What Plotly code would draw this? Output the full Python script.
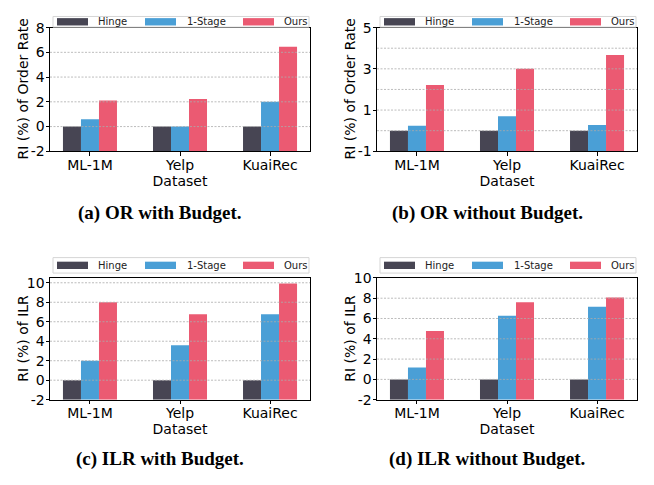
import plotly.graph_objects as go

# ---------------- data ----------------
datasets = ["ML-1M", "Yelp", "KuaiRec"]
methods = ["Hinge", "1-Stage", "Ours"]

or_budget_hinge = [0.0, 0.0, 0.0]
or_budget_1stage = [0.6, 0.0, 2.0]
or_budget_ours = [2.1, 2.23, 6.45]

or_nobudget_hinge = [0.0, 0.0, 0.0]
or_nobudget_1stage = [0.24, 0.7, 0.28]
or_nobudget_ours = [2.21, 3.0, 3.67]

ilr_budget_hinge = [0.0, 0.0, 0.0]
ilr_budget_1stage = [2.0, 3.6, 6.78]
ilr_budget_ours = [8.0, 6.78, 9.93]

ilr_nobudget_hinge = [0.0, 0.0, 0.0]
ilr_nobudget_1stage = [1.17, 6.28, 7.17]
ilr_nobudget_ours = [4.77, 7.61, 8.08]

ytick_a = [-2, 0, 2, 4, 6, 8]
ytick_b = [-1, 1, 3, 5]
ytick_c = [-2, 0, 2, 4, 6, 8, 10]
ytick_d = [-2, 0, 2, 4, 6, 8, 10]

y_titles = ["RI (%) of Order Rate", "RI (%) of Order Rate", "RI (%) of ILR", "RI (%) of ILR"]
captions = ["(a) OR with Budget.", "(b) OR without Budget.",
            "(c) ILR with Budget.", "(d) ILR without Budget."]

# ---------------- style / layout ----------------
OFF = 8                      # page body margin of the html page
W, H = 654 - OFF, 485 - OFF  # figure size so that it fits the window
colors = ["#474553", "#4a9fd6", "#eb5a72"]
FONT = "DejaVu Sans"


def px(x):
    return (x - OFF) / W


def py(y):
    return 1 - (y - OFF) / H


panels = [
    dict(series=[or_budget_hinge, or_budget_1stage, or_budget_ours], yr=[-2, 8], ticks=ytick_a,
         grid=[0, 2, 4, 6], box=(50, 310, 20, 148), leg=(8.5, 19.5)),
    dict(series=[or_nobudget_hinge, or_nobudget_1stage, or_nobudget_ours], yr=[-1, 5], ticks=ytick_b,
         grid=[0, 1, 2, 3, 4], box=(377, 637, 20, 148), leg=(8.5, 19.5)),
    dict(series=[ilr_budget_hinge, ilr_budget_1stage, ilr_budget_ours], yr=[-2, 10.5], ticks=ytick_c,
         grid=[0, 2, 4, 6, 8, 10], box=(50, 310, 279, 405), leg=(258, 274)),
    dict(series=[ilr_nobudget_hinge, ilr_nobudget_1stage, ilr_nobudget_ours], yr=[-2, 10], ticks=ytick_d,
         grid=[0, 2, 4, 6, 8], box=(377, 637, 279, 405), leg=(258, 274)),
]

fig = go.Figure()
shapes = []
annotations = []
layout_axes = {}

for i, p in enumerate(panels):
    n = "" if i == 0 else str(i + 1)
    xa, ya = "x" + n, "y" + n
    x0, x1, y0, y1 = p["box"]
    base = p["yr"][0]
    for m, vals, c in zip(methods, p["series"], colors):
        fig.add_trace(go.Bar(
            x=datasets, y=[v - base for v in vals], base=base, name=m,
            marker=dict(color=c, line=dict(width=0)), xaxis=xa, yaxis=ya,
            showlegend=False, offsetgroup=m,
        ))
    layout_axes["xaxis" + n] = dict(
        domain=[px(x0), px(x1)], anchor=ya, range=[-0.444, 2.444],
        showline=True, mirror=True, linecolor="black", linewidth=1,
        ticks="outside", ticklen=3.5, tickcolor="black", showgrid=False,
        ticklabelstandoff=-3,
        tickfont=dict(family=FONT, size=14, color="black"),
        title=dict(text="Dataset", font=dict(family=FONT, size=14, color="black"), standoff=0),
        fixedrange=True,
    )
    layout_axes["yaxis" + n] = dict(
        domain=[py(y1), py(y0)], anchor=xa, range=p["yr"],
        tickvals=p["ticks"], ticktext=[str(t) for t in p["ticks"]],
        showline=True, mirror=True, linecolor="black", linewidth=1,
        ticks="outside", ticklen=3.5, tickcolor="black", showgrid=False, zeroline=False,
        ticklabelstandoff=-2,
        tickfont=dict(family=FONT, size=14, color="black"),
        fixedrange=True,
    )
    # y-axis title
    annotations.append(dict(text=y_titles[i], xref="paper", yref="paper",
                            x=px(x0 - 27), y=py((y0 + y1) / 2), xanchor="center", yanchor="middle",
                            textangle=-90, showarrow=False,
                            font=dict(family=FONT, size=14, color="black")))
    # gridlines drawn above bars (as in reference)
    for g in p["grid"]:
        shapes.append(dict(type="line", xref=xa + " domain", yref=ya, x0=0, x1=1, y0=g, y1=g,
                           line=dict(color="#ababab", width=0.8, dash="2px,1.5px"), layer="above"))
    # legend box
    ly0, ly1 = p["leg"]
    lc = (ly0 + ly1) / 2
    shapes.append(dict(type="rect", xref="paper", yref="paper", x0=px(x0 + 3), x1=px(x0 + 259),
                       y0=py(ly1), y1=py(ly0), line=dict(color="#d5d5d5", width=1),
                       fillcolor="white", layer="above"))
    for (pa, pb, tx), m, c in zip([(7, 38, 46), (95, 126, 135), (193, 224, 232)], methods, colors):
        shapes.append(dict(type="rect", xref="paper", yref="paper", x0=px(x0 + pa), x1=px(x0 + pb),
                           y0=py(lc + 3.8), y1=py(lc - 3.8), line=dict(width=0), fillcolor=c,
                           layer="above"))
        annotations.append(dict(text=m, xref="paper", yref="paper", x=px(x0 + tx), y=py(lc),
                                xanchor="left", yanchor="middle", showarrow=False,
                                font=dict(family=FONT, size=10, color="#222222")))
    # caption
    cy = 212 if i < 2 else 466
    annotations.append(dict(text="<b>" + captions[i] + "</b>", xref="paper", yref="paper",
                            x=px(x0 + 110), y=py(cy), xanchor="center", yanchor="middle",
                            showarrow=False,
                            font=dict(family="Liberation Serif", size=19, color="black")))

fig.update_layout(
    width=W, height=H, margin=dict(l=0, r=0, t=0, b=0),
    paper_bgcolor="white", plot_bgcolor="white",
    barmode="group", bargap=0.4, bargroupgap=0,
    shapes=shapes, annotations=annotations, showlegend=False,
    **layout_axes,
)

fig.write_html("out.html")
